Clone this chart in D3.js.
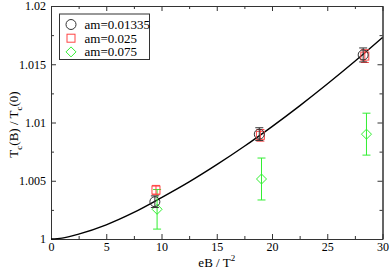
<!DOCTYPE html>
<html>
<head>
<meta charset="utf-8">
<script src="https://cdn.jsdelivr.net/npm/d3@7"></script>
<style>
  body { margin: 0; background: #fff; }
  svg { display: block; }
  svg text { font-family: "Liberation Serif", "Times New Roman", "DejaVu Serif", serif !important; fill: #000; }
  .axis path { stroke: #333; }
  .axis line { stroke: #333; }
  .axis text { font-size: 12px; }
</style>
</head>
<body>
<svg class="plot"></svg>
<script>
// values
const seriesNames = ["am=0.01335", "am=0.025", "am=0.075"];
const lightX = [9.4, 18.85, 28.25];
const lightY = [1.0032, 1.0090, 1.0158];
const lightErr = [0.0005, 0.00055, 0.0006];
const midX = [9.5, 18.95, 28.4];
const midY = [1.0042, 1.0089, 1.0157];
const midErr = [0.0004, 0.0005, 0.00055];
const heavyX = [9.6, 19.05, 28.55];
const heavyY = [1.00255, 1.00515, 1.0090];
const heavyErr = [0.0017, 0.0018, 0.0018];
// fit curve, sampled by eye
const curveX = [0, 1, 2.5, 5, 7.5, 10, 12.5, 15, 17.5, 20, 22.5, 25, 27.5, 30];
const curveY = [1, 1.00008, 1.00042, 1.00122, 1.00228, 1.00355, 1.00490, 1.00638, 1.00796, 1.00965, 1.01143, 1.01330, 1.01525, 1.01729];
const xTicks = [0, 5, 10, 15, 20, 25, 30];
const yTicks = [1, 1.005, 1.01, 1.015, 1.02];

const margin = {top: 6, right: 7.5, bottom: 32, left: 51},
      width = 390 - margin.left - margin.right,
      height = 271 - margin.top - margin.bottom;

let x = d3.scaleLinear().domain([0, 30]).range([0, width]);
let y = d3.scaleLinear().domain([1, 1.02]).range([height, 0]);

let svg = d3.select(".plot").attr("width", 390).attr("height", 271);
let chart = svg.append("g")
               .attr("transform", "translate(" + margin.left + "," + margin.top + ")");

let xMinor = d3.range(2.5, 30, 5);
let yMinor = d3.range(1.0025, 1.02, 0.005);

// bottom axis
chart.append("g")
     .attr("class", "axis")
     .attr("transform", "translate(0," + height + ")")
     .call(d3.axisBottom(x).tickValues(xTicks).tickSize(-5).tickPadding(3).tickSizeOuter(0));
chart.append("g")
     .attr("class", "axis")
     .attr("transform", "translate(0," + height + ")")
     .call(d3.axisBottom(x).tickValues(xMinor).tickSize(-3).tickFormat("").tickSizeOuter(0));

// top axis
chart.append("g")
     .attr("class", "axis")
     .call(d3.axisTop(x).tickValues(xTicks).tickSize(-5).tickFormat("").tickSizeOuter(0));
chart.append("g")
     .attr("class", "axis")
     .call(d3.axisTop(x).tickValues(xMinor).tickSize(-3).tickFormat("").tickSizeOuter(0));

// left axis
chart.append("g")
     .attr("class", "axis")
     .call(d3.axisLeft(y).tickValues(yTicks).tickSize(-5).tickPadding(5).tickSizeOuter(0)
             .tickFormat((d) => { return d3.format("")(+d.toFixed(3)); }));
chart.append("g")
     .attr("class", "axis")
     .call(d3.axisLeft(y).tickValues(yMinor).tickSize(-3).tickFormat("").tickSizeOuter(0));

// right axis
chart.append("g")
     .attr("class", "axis")
     .attr("transform", "translate(" + width + ",0)")
     .call(d3.axisRight(y).tickValues(yTicks).tickSize(-5).tickFormat("").tickSizeOuter(0));
chart.append("g")
     .attr("class", "axis")
     .attr("transform", "translate(" + width + ",0)")
     .call(d3.axisRight(y).tickValues(yMinor).tickSize(-3).tickFormat("").tickSizeOuter(0));

// x label
let xLabel = svg.append("text")
     .attr("x", margin.left + width / 2)
     .attr("y", 267)
     .attr("text-anchor", "middle")
     .style("font-size", "13px");
xLabel.append("tspan").text("eB / T");
xLabel.append("tspan").attr("dy", -6).style("font-size", "9px").text("2");

// y label
let yLabel = svg.append("text")
     .attr("transform", "translate(18," + (margin.top + height / 2 + 2) + ") rotate(-90)")
     .attr("text-anchor", "middle")
     .style("font-size", "13px");
yLabel.append("tspan").text("T");
yLabel.append("tspan").attr("dy", 4).style("font-size", "9px").text("c");
yLabel.append("tspan").attr("dy", -4).text("(B) / T");
yLabel.append("tspan").attr("dy", 4).style("font-size", "9px").text("c");
yLabel.append("tspan").attr("dy", -4).text("(0)");

// fit curve
let curve = curveX.map((d, i) => [d, curveY[i]]);
chart.append("path")
     .datum(curve)
     .attr("fill", "none")
     .attr("stroke", "#000")
     .attr("stroke-width", 1.4)
     .attr("d", d3.line().x((d) => x(d[0])).y((d) => y(d[1])).curve(d3.curveMonotoneX));

let series = [
  {name: seriesNames[0], xs: lightX, ys: lightY, es: lightErr, color: "#333", shape: "circle"},
  {name: seriesNames[1], xs: midX, ys: midY, es: midErr, color: "#f44", shape: "square"},
  {name: seriesNames[2], xs: heavyX, ys: heavyY, es: heavyErr, color: "#3e3", shape: "diamond"}
];

function drawMarker(g, shape, color) {
  if (shape === "circle") {
    g.append("circle").attr("r", 5);
  } else if (shape === "square") {
    g.append("rect").attr("x", -4).attr("y", -4).attr("width", 8).attr("height", 8);
  } else {
    g.append("path").attr("d", "M0,-5L5,0L0,5L-5,0Z");
  }
  g.selectAll("*").attr("fill", "none").attr("stroke", color).attr("stroke-width", 1);
}

// draw heavy first so the lighter ones sit above, like the reference
series.slice().reverse().forEach((s) => {
  let pts = s.xs.map((d, i) => ({x: d, y: s.ys[i], e: s.es[i]}));
  let g = chart.append("g");
  pts.forEach((p) => {
    let cx = x(p.x), top = y(p.y + p.e), bot = y(p.y - p.e);
    g.append("line").attr("x1", cx).attr("x2", cx).attr("y1", top).attr("y2", bot)
     .attr("stroke", s.color).attr("stroke-width", 1);
    [top, bot].forEach((cy) => {
      g.append("line").attr("x1", cx - 4).attr("x2", cx + 4).attr("y1", cy).attr("y2", cy)
       .attr("stroke", s.color).attr("stroke-width", 1);
    });
    let m = g.append("g").attr("transform", "translate(" + cx + "," + y(p.y) + ")");
    drawMarker(m, s.shape, s.color);
  });
});

// legend
let legend = chart.append("g").attr("transform", "translate(8.5,8)");
legend.append("rect")
      .attr("width", 90)
      .attr("height", 45.5)
      .attr("fill", "#fff")
      .attr("stroke", "#333")
      .attr("stroke-width", 1);
series.forEach((s, i) => {
  let row = legend.append("g").attr("transform", "translate(11.5," + (10.5 + i * 13.7) + ")");
  drawMarker(row, s.shape, s.color);
  legend.append("text")
        .attr("x", 25)
        .attr("y", 10.5 + i * 13.7 + 4.5)
        .style("font-size", "13px")
        .text(s.name);
});
</script>
</body>
</html>
